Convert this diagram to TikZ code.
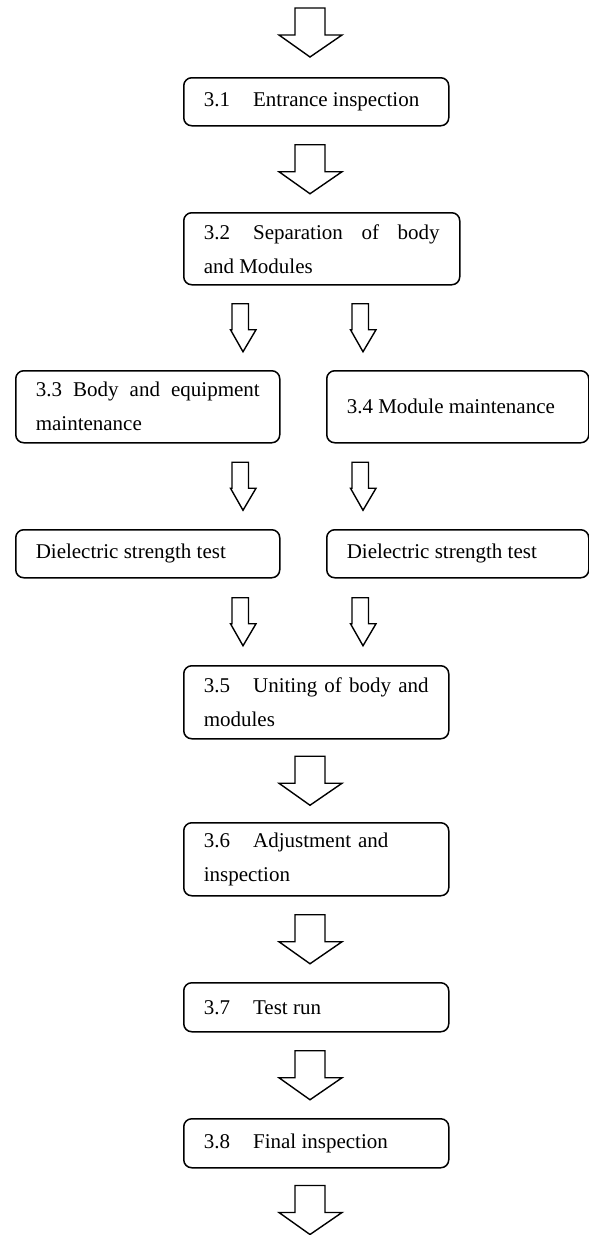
\documentclass[tikz,border=0pt]{standalone}
\usepackage{fontspec}
\setmainfont{Liberation Serif}
\usepackage{tikz}
\usetikzlibrary{calc, positioning}
\hyphenpenalty=10000
\exhyphenpenalty=10000

\tikzset{
  stage/.style={draw, line width=1.5pt, rounded corners=8pt, anchor=north west,
    inner xsep=20pt, inner ysep=0pt, align=justify,
    font=\fontsize{21}{34}\selectfont},
  bigdown/.pic={
    \draw[line width=1.4pt] (-15,-24.5) -- (15,-24.5) -- (15,2.5) -- (32,2.5)
      -- (0,24.5) -- (-31,2.5) -- (-15,2.5) -- cycle;
  },
  smalldown/.pic={
    \draw[line width=1.4pt] (-11,-24) -- (5.5,-24) -- (5.5,2) -- (13,2)
      -- (0,24) -- (-12.5,2) -- (-11,2) -- cycle;
  }
}

\begin{document}
\begin{tikzpicture}[x=1pt, y=-1pt]
    \useasboundingbox (0,0) rectangle (589,1235);
    \coordinate (mid) at (310,0);
    \coordinate (colL) at (243,0);
    \coordinate (colR) at (363,0);
    \coordinate (in) at (310,32.5);
    \coordinate (out) at (310,1210);

    \node[stage, text width=225pt, minimum height=48pt] (entrance) at (183,77)
        {3.1\hspace{1.1em}Entrance inspection};
    \node[stage, text width=236pt, minimum height=72pt] (separation) at (183,212)
        {3.2\hspace{1.1em}Separation of body and Modules};
    \node[stage, text width=224pt, minimum height=72pt] (body) at (15,370)
        {3.3 Body and equipment maintenance};
    \node[stage, text width=222pt, minimum height=72pt] (module) at (326,370)
        {3.4 Module maintenance};
    \node[stage, text width=224pt, minimum height=48pt] (testL) at (15,529)
        {Dielectric strength test};
    \node[stage, text width=222pt, minimum height=48pt] (testR) at (326,529)
        {Dielectric strength test};
    \node[stage, text width=225pt, minimum height=73pt] (uniting) at (183,665)
        {3.5\hspace{1.1em}Uniting of body and modules};
    \node[stage, text width=225pt, minimum height=73pt, align=left] (adjust) at (183,822)
        {3.6\hspace{1.1em}Adjustment and inspection};
    \node[stage, text width=225pt, minimum height=49pt] (testrun) at (183,982)
        {3.7\hspace{1.1em}Test run};
    \node[stage, text width=225pt, minimum height=49pt] (final) at (183,1118)
        {3.8\hspace{1.1em}Final inspection};

    \pic at (in) {bigdown};
    \pic at ($(entrance.south -| mid)!.5!(separation.north -| mid)$) {bigdown};
    \pic at ($(separation.south -| colL)!.5!(body.north -| colL)$) {smalldown};
    \pic at ($(separation.south -| colR)!.5!(module.north -| colR)$) {smalldown};
    \pic at ($(body.south -| colL)!.5!(testL.north -| colL)$) {smalldown};
    \pic at ($(module.south -| colR)!.5!(testR.north -| colR)$) {smalldown};
    \pic at ($(testL.south -| colL)!.5!(uniting.north -| colL)$) {smalldown};
    \pic at ($(testR.south -| colR)!.5!(uniting.north -| colR)$) {smalldown};
    \pic at ($(uniting.south -| mid)!.5!(adjust.north -| mid)$) {bigdown};
    \pic at ($(adjust.south -| mid)!.5!(testrun.north -| mid)$) {bigdown};
    \pic at ($(testrun.south -| mid)!.5!(final.north -| mid)$) {bigdown};
    \pic at (out) {bigdown};
\end{tikzpicture}
\end{document}
